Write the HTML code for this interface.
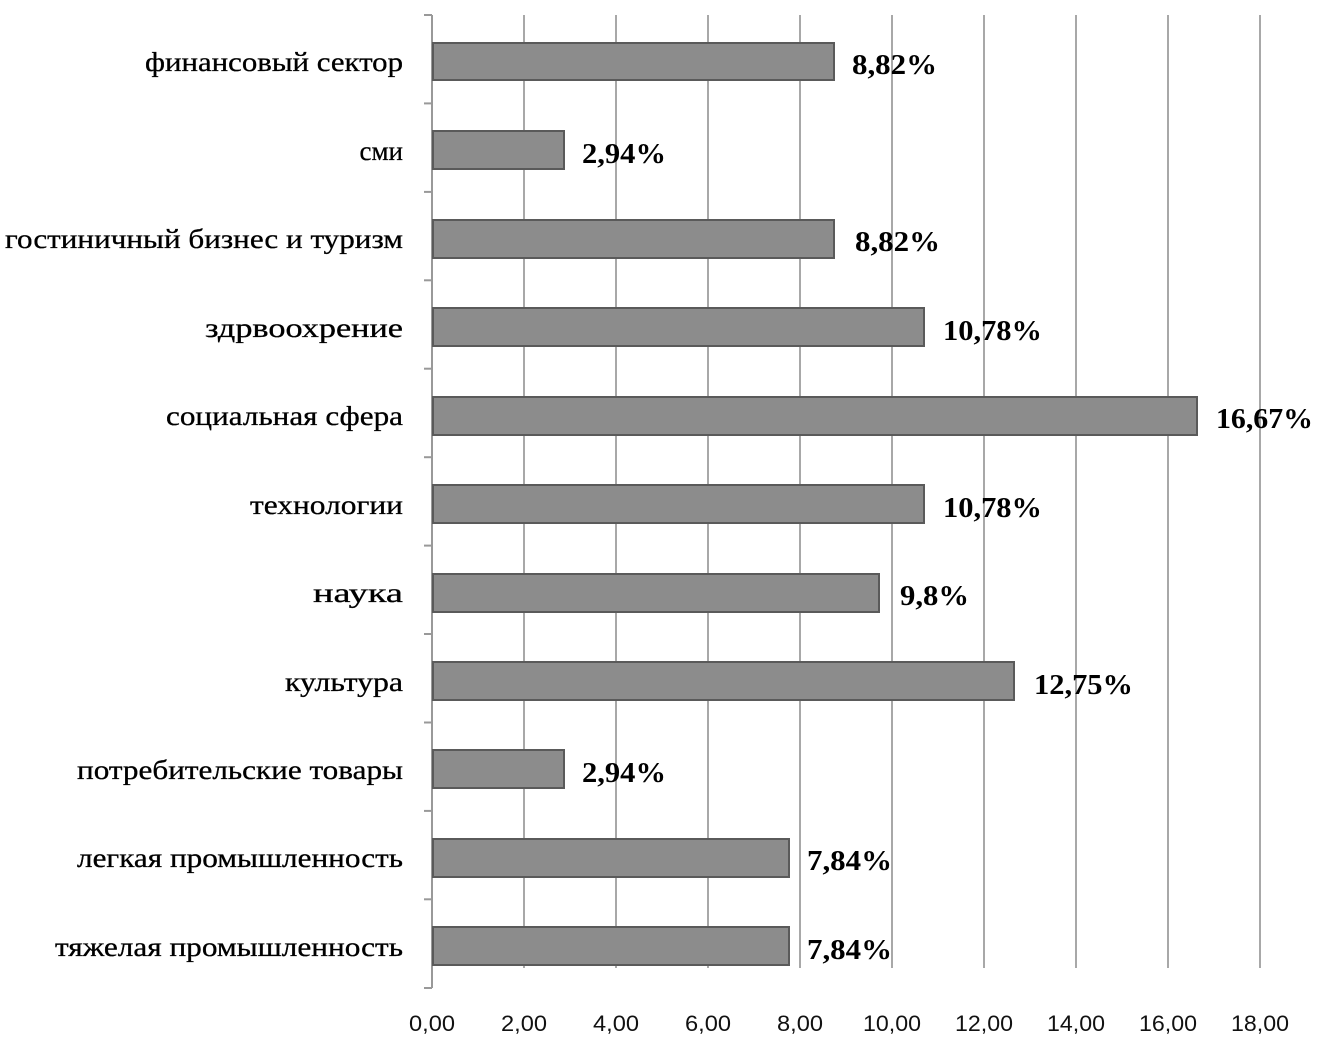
<!DOCTYPE html>
<html><head><meta charset="utf-8"><style>html,body{margin:0;padding:0;background:#fff;}</style></head>
<body>
<svg width="1326" height="1044" xmlns="http://www.w3.org/2000/svg">
<g stroke="#a8a8a8" stroke-width="2">
<line x1="524" y1="15" x2="524" y2="968"/><line x1="616" y1="15" x2="616" y2="968"/>
<line x1="708" y1="15" x2="708" y2="968"/><line x1="800" y1="15" x2="800" y2="968"/>
<line x1="892" y1="15" x2="892" y2="968"/><line x1="984" y1="15" x2="984" y2="968"/>
<line x1="1076" y1="15" x2="1076" y2="968"/><line x1="1168" y1="15" x2="1168" y2="968"/>
<line x1="1260" y1="15" x2="1260" y2="968"/>
</g>
<g stroke="#999" stroke-width="2">
<line x1="432" y1="15" x2="432" y2="988"/>
<line x1="424" y1="15" x2="432" y2="15"/><line x1="424" y1="103.4" x2="432" y2="103.4"/>
<line x1="424" y1="191.9" x2="432" y2="191.9"/><line x1="424" y1="280.3" x2="432" y2="280.3"/>
<line x1="424" y1="368.7" x2="432" y2="368.7"/><line x1="424" y1="457.2" x2="432" y2="457.2"/>
<line x1="424" y1="545.6" x2="432" y2="545.6"/><line x1="424" y1="634" x2="432" y2="634"/>
<line x1="424" y1="722.5" x2="432" y2="722.5"/><line x1="424" y1="810.9" x2="432" y2="810.9"/>
<line x1="424" y1="899.3" x2="432" y2="899.3"/><line x1="424" y1="988" x2="432" y2="988"/>
</g>
<g fill="#8c8c8c" stroke="#5a5a5a" stroke-width="2">
<rect x="433" y="43" width="401" height="37"/>
<rect x="433" y="131" width="131" height="38"/>
<rect x="433" y="220" width="401" height="38"/>
<rect x="433" y="308" width="491" height="38"/>
<rect x="433" y="397" width="764" height="38"/>
<rect x="433" y="485" width="491" height="38"/>
<rect x="433" y="574" width="446" height="38"/>
<rect x="433" y="662" width="581" height="38"/>
<rect x="433" y="750" width="131" height="38"/>
<rect x="433" y="839" width="356" height="38"/>
<rect x="433" y="927" width="356" height="38"/>
</g>
<g font-family="Liberation Serif, serif" font-size="27" fill="#000" stroke="#000" stroke-width="0.3" text-anchor="end">
<text x="403" y="71" textLength="258" lengthAdjust="spacingAndGlyphs">финансовый сектор</text>
<text x="403" y="160">сми</text>
<text x="403" y="248" textLength="398" lengthAdjust="spacingAndGlyphs">гостиничный бизнес и туризм</text>
<text x="403" y="337" textLength="198" lengthAdjust="spacingAndGlyphs">здрвоохрение</text>
<text x="403" y="425" textLength="237" lengthAdjust="spacingAndGlyphs">социальная сфера</text>
<text x="403" y="514" textLength="153" lengthAdjust="spacingAndGlyphs">технологии</text>
<text x="403" y="602" textLength="90" lengthAdjust="spacingAndGlyphs">наука</text>
<text x="403" y="691" textLength="118" lengthAdjust="spacingAndGlyphs">культура</text>
<text x="403" y="779" textLength="326" lengthAdjust="spacingAndGlyphs">потребительские товары</text>
<text x="403" y="867" textLength="326" lengthAdjust="spacingAndGlyphs">легкая промышленность</text>
<text x="403" y="956" textLength="348" lengthAdjust="spacingAndGlyphs">тяжелая промышленность</text>
</g>
<g font-family="Liberation Serif, serif" font-size="29" font-weight="bold" fill="#000">
<text x="852" y="74" textLength="85" lengthAdjust="spacingAndGlyphs">8,82%</text>
<text x="582" y="163" textLength="84" lengthAdjust="spacingAndGlyphs">2,94%</text>
<text x="855" y="251" textLength="85" lengthAdjust="spacingAndGlyphs">8,82%</text>
<text x="943" y="340" textLength="99" lengthAdjust="spacingAndGlyphs">10,78%</text>
<text x="1216" y="428" textLength="97" lengthAdjust="spacingAndGlyphs">16,67%</text>
<text x="943" y="517" textLength="99" lengthAdjust="spacingAndGlyphs">10,78%</text>
<text x="900" y="605" textLength="69" lengthAdjust="spacingAndGlyphs">9,8%</text>
<text x="1034" y="694" textLength="99" lengthAdjust="spacingAndGlyphs">12,75%</text>
<text x="582" y="782" textLength="84" lengthAdjust="spacingAndGlyphs">2,94%</text>
<text x="807" y="870" textLength="85" lengthAdjust="spacingAndGlyphs">7,84%</text>
<text x="807" y="959" textLength="85" lengthAdjust="spacingAndGlyphs">7,84%</text>
</g>
<g font-family="Liberation Sans, sans-serif" font-size="22" fill="#111" text-anchor="middle">
<text x="432" y="1031" textLength="46" lengthAdjust="spacingAndGlyphs">0,00</text>
<text x="524" y="1031" textLength="46" lengthAdjust="spacingAndGlyphs">2,00</text>
<text x="616" y="1031" textLength="46" lengthAdjust="spacingAndGlyphs">4,00</text>
<text x="708" y="1031" textLength="46" lengthAdjust="spacingAndGlyphs">6,00</text>
<text x="800" y="1031" textLength="46" lengthAdjust="spacingAndGlyphs">8,00</text>
<text x="892" y="1031" textLength="58" lengthAdjust="spacingAndGlyphs">10,00</text>
<text x="984" y="1031" textLength="58" lengthAdjust="spacingAndGlyphs">12,00</text>
<text x="1076" y="1031" textLength="58" lengthAdjust="spacingAndGlyphs">14,00</text>
<text x="1168" y="1031" textLength="58" lengthAdjust="spacingAndGlyphs">16,00</text>
<text x="1260" y="1031" textLength="58" lengthAdjust="spacingAndGlyphs">18,00</text>
</g>
</svg>
</body></html>
